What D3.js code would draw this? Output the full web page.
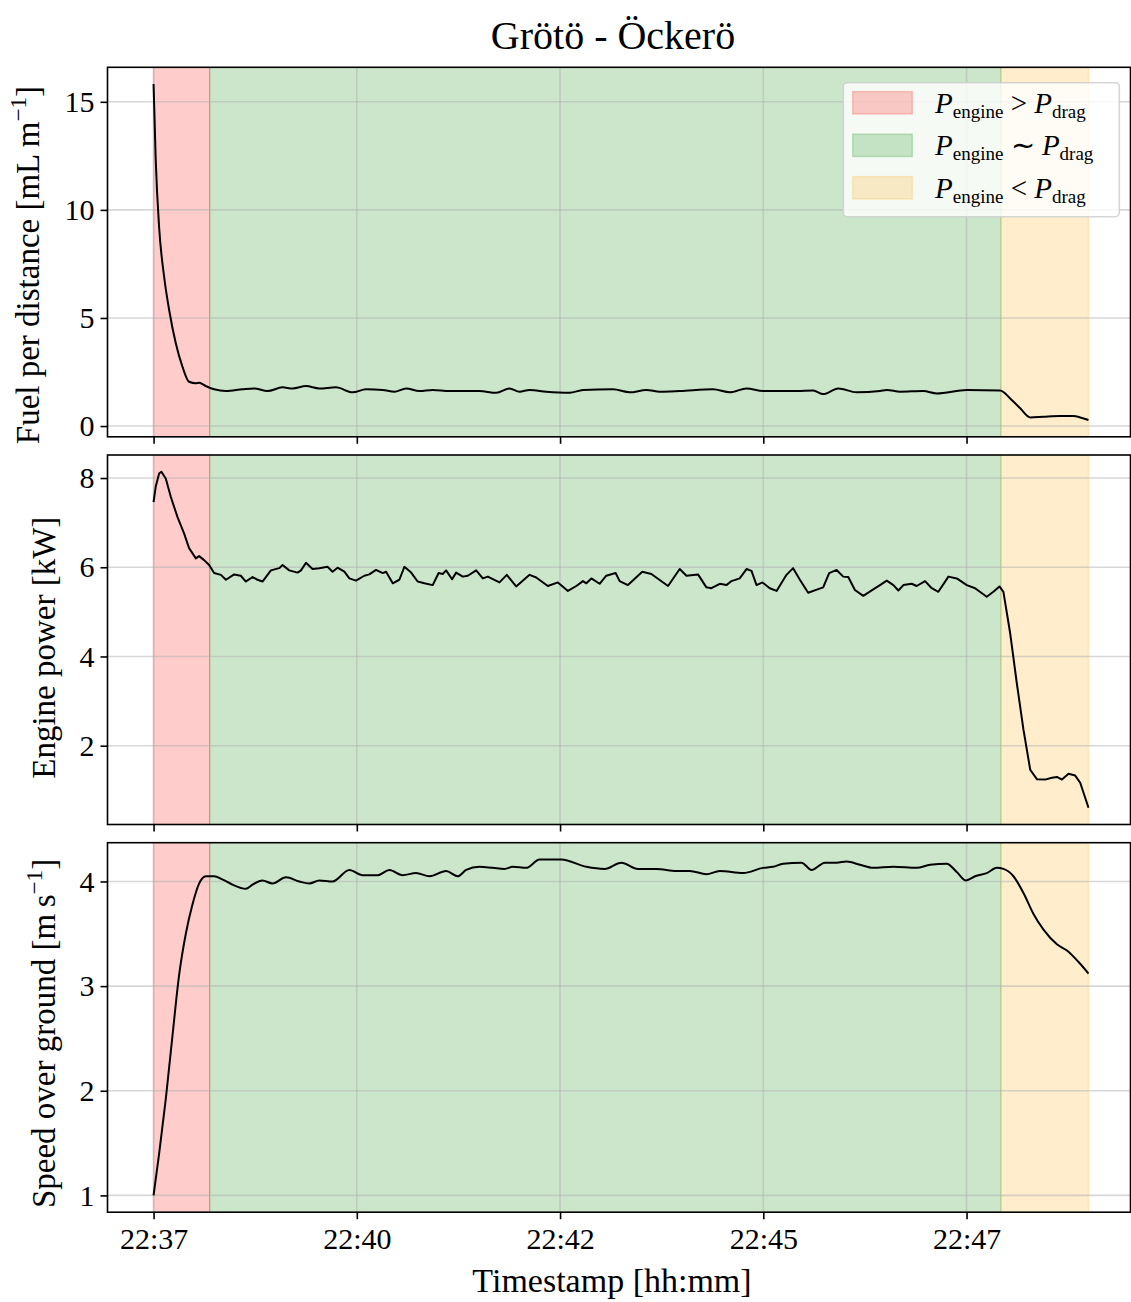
<!DOCTYPE html>
<html><head><meta charset="utf-8">
<script src="https://cdn.jsdelivr.net/npm/d3@7"></script>
<style>
html,body{margin:0;padding:0;background:#fff;}
svg{display:block;}
text{font-family:"Liberation Serif","Times New Roman",serif;fill:#000;}
</style></head><body>
<svg id="chart" width="1131" height="1302"></svg>
<script>
// ---------- DATA (time in seconds since first sample, ~22:37:30) ----------
const xTickValues = [0, 150, 300, 450, 600];
const xTickLabels = ["22:37", "22:40", "22:42", "22:45", "22:47"];

const fuelT = [0,1.6,4.1,7.8,11.5,16.4,21.3,26.2,31.2,33.6,38.6,44.7,53.4,65.6,74.3,84.1,95.2,102.6,112.5,122.3,134.6,146.9,156.8,169.1,177.7,186.4,196.2,206.0,218.4,230.7,240.5,252.9,262.7,270.1,277.5,289.8,307.0,316.9,339.1,351.4,363.7,373.6,388.4,412.9,425.3,437.6,449.9,474.6,486.8,494.2,505.3,518.9,536.1,541.1,551.0,568.1,578.0,600.2,624.8,632.2,639.6,647.0,656.8,669.1,679.0,683.9,690.0];
const fuelV = [15.82,12.3,9.2,6.9,5.37,3.83,2.75,2.05,1.98,2.0,1.85,1.70,1.62,1.70,1.74,1.62,1.79,1.74,1.85,1.74,1.79,1.56,1.70,1.67,1.59,1.74,1.62,1.67,1.62,1.62,1.62,1.54,1.74,1.59,1.67,1.59,1.54,1.67,1.70,1.56,1.67,1.59,1.62,1.70,1.56,1.74,1.62,1.62,1.64,1.48,1.74,1.56,1.62,1.67,1.59,1.62,1.51,1.67,1.64,1.28,0.82,0.40,0.43,0.46,0.46,0.40,0.28];
const fuelTicks = [0, 5, 10, 15];

const powerT = [0,1.6,4.1,5.8,9.0,12.7,17.6,22.5,26.2,31.2,33.6,37.3,41.0,44.7,49.7,53.4,59.5,64.4,68.1,73.0,76.7,80.4,86.6,92.7,95.2,100.1,106.3,108.8,112.5,117.3,122.3,128.4,132.1,135.8,140.8,144.5,149.4,155.5,159.2,164.2,169.1,171.6,176.5,181.4,185.1,190.1,194.9,199.9,206.0,210.4,213.4,215.9,220.3,223.3,228.2,231.9,238.1,243.0,246.7,255.3,260.7,267.6,277.5,282.4,291.0,298.4,305.8,312.0,316.9,319.4,323.1,329.2,334.1,341.0,344.0,350.1,360.7,367.4,379.7,388.3,393.3,401.8,408.0,411.7,417.9,422.8,426.5,432.6,437.6,441.3,445.0,449.4,454.8,459.8,467.1,472.0,477.0,483.1,490.5,494.2,498.6,504.1,509.0,512.7,517.6,523.8,530.0,536.1,541.1,546.0,549.7,553.4,559.5,563.2,569.4,574.3,579.2,586.6,592.8,600.2,606.3,614.9,619.8,624.3,627.2,632.2,637.1,642.0,647.0,651.9,658.0,663.0,666.7,670.4,675.3,680.2,683.9,690.0];
const powerV = [7.46,7.81,8.10,8.14,7.99,7.58,7.13,6.76,6.43,6.20,6.25,6.16,6.05,5.87,5.83,5.72,5.84,5.81,5.68,5.78,5.72,5.68,5.93,5.98,6.05,5.93,5.88,5.93,6.10,5.96,5.98,6.01,5.90,5.99,5.90,5.75,5.70,5.81,5.84,5.94,5.87,5.90,5.64,5.72,6.01,5.88,5.68,5.64,5.60,5.87,5.85,5.93,5.73,5.88,5.79,5.81,5.93,5.75,5.79,5.66,5.83,5.57,5.83,5.77,5.58,5.66,5.47,5.58,5.69,5.64,5.75,5.63,5.81,5.87,5.69,5.60,5.90,5.85,5.58,5.96,5.81,5.84,5.55,5.53,5.63,5.60,5.69,5.75,5.96,5.92,5.60,5.66,5.53,5.47,5.83,5.98,5.72,5.43,5.51,5.55,5.87,5.94,5.79,5.78,5.49,5.36,5.48,5.60,5.70,5.60,5.48,5.60,5.63,5.58,5.69,5.53,5.45,5.79,5.75,5.60,5.53,5.34,5.45,5.57,5.45,4.52,3.40,2.36,1.46,1.25,1.24,1.28,1.30,1.24,1.37,1.33,1.17,0.61];
const powerTicks = [2, 4, 6, 8];

const speedT = [0,4.1,9.0,13.9,18.8,23.8,28.7,33.6,38.6,44.7,50.8,58.2,68.1,73.0,80.4,87.8,97.7,107.5,114.9,122.3,132.1,144.5,154.3,165.4,174.0,183.8,193.7,203.6,215.9,224.5,230.7,240.5,250.3,259.0,265.1,275.0,284.9,300.9,319.4,332.9,345.2,357.5,371.1,385.9,395.7,408.0,417.9,435.1,449.9,457.2,464.6,478.2,485.6,495.5,504.1,511.5,521.3,531.1,546.0,563.2,573.1,585.4,592.8,599.6,606.3,614.9,622.3,627.2,634.6,642.0,649.4,656.8,666.7,674.1,682.7,690.0];
const speedV = [1.00,1.40,1.92,2.52,3.10,3.50,3.78,3.98,4.05,4.05,4.02,3.97,3.93,3.97,4.01,3.98,4.04,4.00,3.98,4.01,4.00,4.11,4.06,4.06,4.11,4.06,4.08,4.05,4.10,4.05,4.11,4.14,4.13,4.12,4.14,4.13,4.21,4.21,4.14,4.12,4.18,4.12,4.12,4.10,4.10,4.07,4.10,4.08,4.13,4.14,4.17,4.18,4.11,4.18,4.18,4.19,4.16,4.13,4.14,4.13,4.16,4.17,4.09,4.01,4.05,4.08,4.13,4.12,4.05,3.89,3.69,3.54,3.40,3.34,3.23,3.12];
const speedTicks = [1, 2, 3, 4];

// phases (seconds)
const phaseStart = [0, 41.4, 625.4];
const phaseEnd   = [41.4, 625.4, 690];
const phaseRel   = [">", "\u223C", "<"];

// ---------- STYLE / LAYOUT ----------
const phaseColors = ["#ff0000", "#008000", "#ffa500"];
const L = 107.5, R = 1130.5;
const panelTop = [67.3, 455, 842.7];
const panelH = 369.5;
const labelX = [39, 55, 55];
const labelShift = [13, 8, 6];
const tickFont = 30, labelFont = 33;

const svg = d3.select("#chart");
const x = d3.scaleLinear().domain([-34, 721]).range([L, R]);

const panels = [
  {t: fuelT, v: fuelV, ticks: fuelTicks, curve: d3.curveMonotoneX,
   label: [["Fuel per distance [mL\u2009m", 0], ["\u22121", 1], ["]", 2]]},
  {t: powerT, v: powerV, ticks: powerTicks, curve: d3.curveLinear,
   label: [["Engine power [kW]", 0]]},
  {t: speedT, v: speedV, ticks: speedTicks, curve: d3.curveMonotoneX,
   label: [["Speed over ground [m\u2009s", 0], ["\u22121", 1], ["]", 2]]}
];

const defs = svg.append("defs");

panels.forEach((p, i) => {
  const top = panelTop[i], bot = top + panelH;
  const ext = d3.extent(p.v);
  const pad = (ext[1] - ext[0]) * 0.05;
  const y = d3.scaleLinear().domain([ext[0] - pad, ext[1] + pad]).range([bot, top]);

  const clipId = "clip" + i;
  defs.append("clipPath").attr("id", clipId).append("rect")
    .attr("x", L).attr("y", top).attr("width", R - L).attr("height", panelH);

  const g = svg.append("g");
  const inner = g.append("g").attr("clip-path", `url(#${clipId})`);

  // phase spans
  inner.selectAll("rect.span").data(phaseStart).join("rect")
    .attr("class", "span")
    .attr("x", (d) => x(d))
    .attr("width", (d, k) => x(phaseEnd[k]) - x(d))
    .attr("y", top - 10).attr("height", panelH + 20)
    .attr("fill", (d, k) => phaseColors[k]).attr("fill-opacity", 0.2)
    .attr("stroke", (d, k) => phaseColors[k]).attr("stroke-opacity", 0.2)
    .attr("stroke-width", 1.4);

  // grid
  inner.selectAll("line.gx").data(xTickValues).join("line")
    .attr("x1", d => x(d)).attr("x2", d => x(d))
    .attr("y1", top).attr("y2", bot)
    .attr("stroke", "#b0b0b0").attr("stroke-opacity", 0.5).attr("stroke-width", 1.6);
  inner.selectAll("line.gy").data(p.ticks).join("line")
    .attr("x1", L).attr("x2", R)
    .attr("y1", d => y(d)).attr("y2", d => y(d))
    .attr("stroke", "#b0b0b0").attr("stroke-opacity", 0.5).attr("stroke-width", 1.6);

  // data line
  const line = d3.line().x((d, k) => x(p.t[k])).y(d => y(d)).curve(p.curve);
  inner.append("path").datum(p.v)
    .attr("d", line).attr("fill", "none")
    .attr("stroke", "#000").attr("stroke-width", 2).attr("stroke-linejoin", "round");

  // y axis
  const ya = g.append("g").attr("transform", `translate(${L},0)`)
    .call(d3.axisLeft(y).tickValues(p.ticks).tickSize(7).tickPadding(6).tickFormat(d3.format("d")));
  ya.select(".domain").remove();
  ya.selectAll(".tick line").attr("stroke", "#000").attr("stroke-width", 1.6);
  ya.selectAll(".tick text").attr("font-size", tickFont)
    .attr("font-family", "Liberation Serif").attr("fill", "#000");

  // x axis
  const xa = g.append("g").attr("transform", `translate(0,${bot})`)
    .call(d3.axisBottom(x).tickValues(xTickValues).tickSize(7).tickPadding(9)
      .tickFormat((d, k) => i === 2 ? xTickLabels[k] : ""));
  xa.select(".domain").remove();
  xa.selectAll(".tick line").attr("stroke", "#000").attr("stroke-width", 1.6);
  xa.selectAll(".tick text").attr("font-size", tickFont)
    .attr("font-family", "Liberation Serif").attr("fill", "#000");

  // spines
  g.append("rect").attr("x", L).attr("y", top).attr("width", R - L).attr("height", panelH)
    .attr("fill", "none").attr("stroke", "#000").attr("stroke-width", 1.6);

  // y label
  const lt = g.append("text")
    .attr("transform", `translate(${labelX[i]},${top + panelH / 2 + labelShift[i]}) rotate(-90)`)
    .attr("text-anchor", "middle").attr("font-size", labelFont);
  p.label.forEach(([s, kind]) => {
    const ts = lt.append("tspan").text(s);
    if (kind === 1) ts.attr("font-size", labelFont * 0.7).attr("dy", -13);
    if (kind === 2) ts.attr("dy", 13);
  });

  // legend in first panel
  if (i === 0) {
    const lg = g.append("g");
    lg.append("rect").attr("x", 843.3).attr("y", 82.7).attr("width", 276).attr("height", 134)
      .attr("rx", 4).attr("fill", "#fff").attr("fill-opacity", 0.8)
      .attr("stroke", "#cccccc").attr("stroke-opacity", 0.8).attr("stroke-width", 1.6);
    phaseRel.forEach((rel, k) => {
      const cy = 102.8 + k * 42.5;
      lg.append("rect").attr("x", 852.7).attr("y", cy - 11.2).attr("width", 59.6).attr("height", 22.4)
        .attr("fill", phaseColors[k]).attr("fill-opacity", 0.2)
        .attr("stroke", phaseColors[k]).attr("stroke-opacity", 0.2).attr("stroke-width", 1.4);
      const t = lg.append("text").attr("x", 935).attr("y", cy + 10).attr("font-size", 29);
      t.append("tspan").attr("font-style", "italic").text("P");
      t.append("tspan").attr("font-size", 19).attr("dy", 5).text("engine");
      t.append("tspan").attr("dy", -5).text(" " + rel + " ");
      t.append("tspan").attr("font-style", "italic").text("P");
      t.append("tspan").attr("font-size", 19).attr("dy", 5).text("drag");
    });
  }
});

// x label + title
svg.append("text").attr("x", 612).attr("y", 1292).attr("text-anchor", "middle")
  .attr("font-size", labelFont + 1).text("Timestamp [hh:mm]");
svg.append("text").attr("x", 613).attr("y", 49).attr("text-anchor", "middle")
  .attr("font-size", 40).text("Grötö - Öckerö");
</script>
</body></html>
